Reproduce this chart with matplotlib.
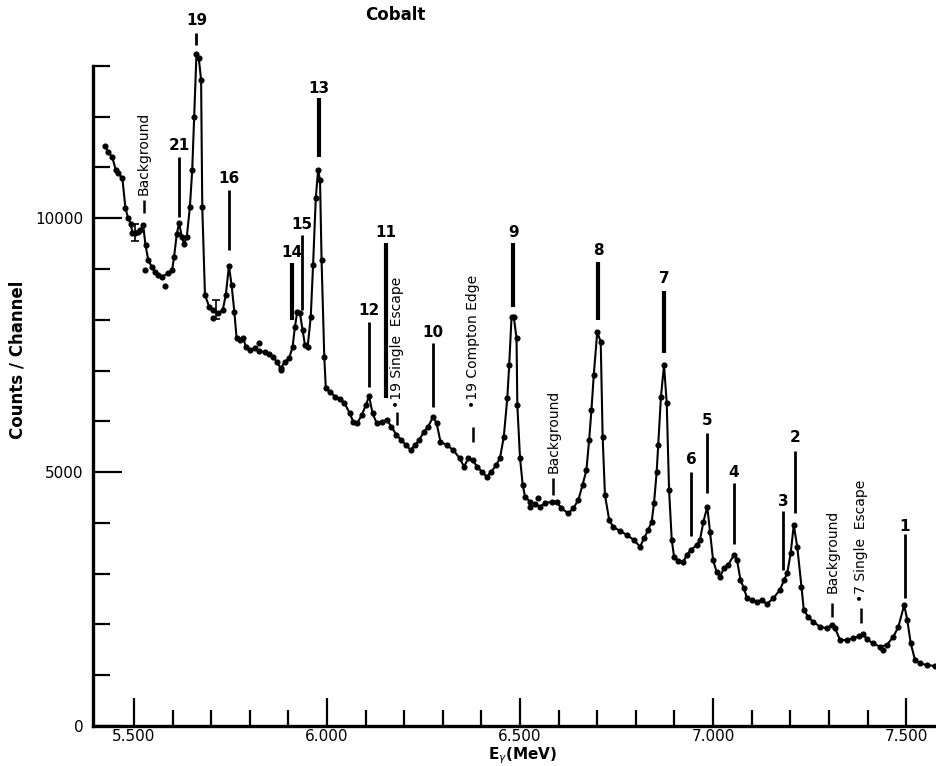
import matplotlib
matplotlib.use('Agg')
import matplotlib.pyplot as plt
from matplotlib.ticker import FixedLocator, FuncFormatter

# gamma spectrum, counts per channel vs energy (keV)
energy = [5425, 5433, 5444, 5453, 5459, 5470, 5478, 5485, 5492, 5496,
          5503, 5510, 5517, 5524, 5530, 5537, 5546, 5554, 5563, 5572,
          5589, 5599, 5604, 5611, 5617, 5624, 5630, 5637, 5645, 5651,
          5656, 5662, 5668, 5674, 5677, 5684, 5695, 5705, 5718, 5730,
          5738, 5746, 5753, 5760, 5766, 5775, 5783, 5790, 5800, 5813,
          5825, 5839, 5850, 5859, 5870, 5880, 5891, 5902, 5911, 5917,
          5923, 5930, 5937, 5943, 5950, 5958, 5964, 5971, 5977, 5982,
          5986, 5993, 5997, 6008, 6021, 6034, 6045, 6059, 6068, 6078,
          6090, 6101, 6109, 6118, 6129, 6142, 6155, 6167, 6180, 6193,
          6204, 6217, 6228, 6239, 6251, 6262, 6275, 6284, 6294, 6310,
          6327, 6344, 6355, 6366, 6377, 6389, 6401, 6414, 6426, 6438,
          6448, 6458, 6467, 6472, 6478, 6484, 6491, 6493, 6500, 6507,
          6513, 6526, 6539, 6552, 6564, 6582, 6595, 6607, 6625, 6638,
          6651, 6662, 6672, 6679, 6685, 6691, 6700, 6709, 6714, 6720,
          6731, 6741, 6759, 6777, 6795, 6811, 6821, 6832, 6841, 6847,
          6854, 6858, 6865, 6873, 6880, 6886, 6893, 6899, 6910, 6923,
          6932, 6942, 6958, 6966, 6975, 6985, 6992, 7000, 7009, 7018,
          7028, 7039, 7054, 7062, 7071, 7080, 7088, 7100, 7113, 7126,
          7139, 7156, 7173, 7184, 7192, 7201, 7209, 7218, 7229, 7235,
          7246, 7259, 7277, 7294, 7307, 7316, 7329, 7346, 7363, 7379,
          7389, 7398, 7415, 7432, 7450, 7467, 7480, 7495, 7503, 7512,
          7523, 7536, 7553, 7575]
counts = [11420, 11308, 11198, 10948, 10883, 10790, 10199, 9997, 9884, 9713,
          9713, 9733, 9766, 9859, 9471, 9176, 9044, 8945, 8880, 8847,
          8914, 8979, 9241, 9687, 9910, 9634, 9491, 9634, 10225, 10948,
          11985, 13232, 13147, 12720, 10225, 8486, 8256, 8191, 8126, 8191,
          8486, 9057, 8683, 8158, 7634, 7600, 7634, 7468, 7403, 7437,
          7384, 7358, 7325, 7272, 7173, 7043, 7173, 7240, 7468, 7862,
          8158, 8126, 7797, 7502, 7468, 8059, 9077, 10390, 10948, 10751,
          9176, 7272, 6649, 6582, 6484, 6433, 6366, 6157, 5992, 5960,
          6124, 6320, 6498, 6157, 5960, 5992, 6025, 5893, 5730, 5631,
          5533, 5434, 5533, 5631, 5795, 5893, 6090, 5960, 5598, 5533,
          5434, 5271, 5106, 5271, 5238, 5106, 5007, 4909, 5007, 5139,
          5271, 5696, 6452, 7108, 8053, 8047, 7634, 6320, 5277, 4745,
          4515, 4416, 4371, 4318, 4385, 4416, 4416, 4287, 4188, 4287,
          4450, 4745, 5041, 5631, 6222, 6911, 7758, 7567, 5696, 4548,
          4056, 3924, 3840, 3761, 3662, 3530, 3696, 3859, 4023, 4385,
          5007, 5533, 6484, 7108, 6354, 4647, 3662, 3333, 3255, 3235,
          3367, 3465, 3564, 3662, 4023, 4318, 3826, 3269, 3038, 2940,
          3105, 3170, 3367, 3269, 2875, 2711, 2514, 2481, 2447, 2481,
          2402, 2514, 2678, 2875, 3007, 3400, 3958, 3530, 2743, 2284,
          2152, 2054, 1955, 1924, 1989, 1924, 1693, 1693, 1727, 1772,
          1811, 1707, 1628, 1561, 1595, 1758, 1955, 2382, 2087, 1628,
          1300, 1235, 1201, 1181]

# points lying off the drawn curve
stray_energy = [5528, 5580, 5704, 5825, 5880, 6526, 6547, 7439]
stray_counts = [8979, 8663, 8027, 7547, 7010, 4306, 4483, 1496]

# statistical error bars
err_energy = [5503, 5712]
err_counts = [9713, 8200]
err_size = [170, 190]

# numbered peaks: label, energy, label height, marker top, marker bottom
peak_names = ['21', '19', '16', '14', '15', '13', '12', '11', '10', '9',
              '8', '7', '6', '5', '4', '3', '2', '1']
peak_energy = [5617, 5662, 5746, 5909, 5936, 5979, 6109, 6153, 6275, 6482,
               6702, 6873, 6944, 6984, 7054, 7181, 7212, 7496]
peak_text_y = [11440, 13900, 10790, 9333, 9865, 12562, 8191, 9727, 7758, 9727,
               9372, 8821, 5257, 6025, 5001, 4411, 5690, 3938]
peak_top = [11204, 13645, 10554, 9116, 9668, 12365, 7955, 9510, 7542, 9510,
            9136, 8565, 5001, 5769, 4785, 4233, 5415, 3780]
peak_bottom = [10022, 13409, 9372, 7994, 8191, 11204, 6675, 6458, 6281, 8250,
               7994, 7344, 3741, 4588, 3584, 3072, 4194, 2520]

# vertical notes: text, energy, text base, marker top, marker bottom
note_names = ['Background', '\u202219 Single  Escape', '\u202219 Compton Edge',
              'Background', 'Background', '\u20227 Single  Escape']
note_energy = [5526, 6182, 6377, 6586, 7309, 7384]
note_base = [10455, 6261, 6261, 4982, 2619, 2442]
note_top = [10357, 6183, 5887, 4883, 2422, 2323]
note_bottom = [10101, 5927, 5592, 4548, 2146, 2028]

x_major = [5500, 6000, 6500, 7000, 7500]
y_major = [0, 5000, 10000]

fig = plt.figure(figsize=(9.37, 7.66), dpi=100)
ax = fig.add_axes([93 / 937, 40 / 766, 844 / 937, 711 / 766])

ax.plot(energy, counts, color='black', lw=1.5, marker='o', ms=3.4, zorder=3)
ax.plot(stray_energy, stray_counts, 'o', color='black', ms=3.4, zorder=3)
ax.errorbar(err_energy, err_counts, yerr=err_size, fmt='none', ecolor='black',
            elinewidth=1.2, capsize=3, capthick=1.2)

thick = {'14', '13', '11', '9', '8', '7'}
for name, x, ty, top, bot in zip(peak_names, peak_energy, peak_text_y,
                                 peak_top, peak_bottom):
    ax.vlines(x, bot, top, color='black', lw=3.0 if name in thick else 2.0)
    ax.text(x, ty, name, ha='center', va='center', fontsize=11,
            fontweight='bold')

for name, x, base, top, bot in zip(note_names, note_energy, note_base,
                                   note_top, note_bottom):
    ax.vlines(x, bot, top, color='black', lw=1.8)
    ax.text(x, base, name, rotation=90, ha='center', va='bottom',
            fontsize=10, fontweight='medium')

ax.set_xlim(5394, 7580)
ax.set_ylim(0, 14000)

for side in ['top', 'right']:
    ax.spines[side].set_visible(False)
ax.spines['left'].set_bounds(0, 13000)
ax.spines['left'].set_linewidth(2.4)
ax.spines['bottom'].set_linewidth(2.4)

ax.xaxis.set_major_locator(FixedLocator(x_major))
ax.xaxis.set_minor_locator(FixedLocator([v for v in range(5600, 7600, 100)
                                         if v not in x_major]))
ax.xaxis.set_major_formatter(FuncFormatter(lambda v, p: f'{v / 1000:.3f}'))
ax.yaxis.set_major_locator(FixedLocator(y_major))
ax.yaxis.set_minor_locator(FixedLocator([v for v in range(1000, 14000, 1000)
                                         if v not in y_major]))
ax.yaxis.set_major_formatter(FuncFormatter(lambda v, p: f'{int(v)}'))

ax.tick_params(axis='x', which='major', direction='in', length=20, width=1.6,
               labelsize=11, pad=2)
ax.tick_params(axis='x', which='minor', direction='in', length=11.5, width=1.6)
ax.tick_params(axis='y', which='major', direction='in', length=21, width=1.6,
               labelsize=11, pad=7)
ax.tick_params(axis='y', which='minor', direction='in', length=12.5, width=1.6)

fig.text(395 / 937, 1 - 15 / 766, 'Cobalt', ha='center', va='center',
         fontsize=12, fontweight='bold')
fig.text(523 / 937, 0, r'E$_\gamma$(MeV)', ha='center',
         va='bottom', fontsize=11, fontweight='bold')
fig.text(18 / 937, 1 - 360 / 766, 'Counts / Channel', rotation=90,
         ha='center', va='center', fontsize=12, fontweight='bold')

fig.savefig('out.png', dpi=100, facecolor='white')
